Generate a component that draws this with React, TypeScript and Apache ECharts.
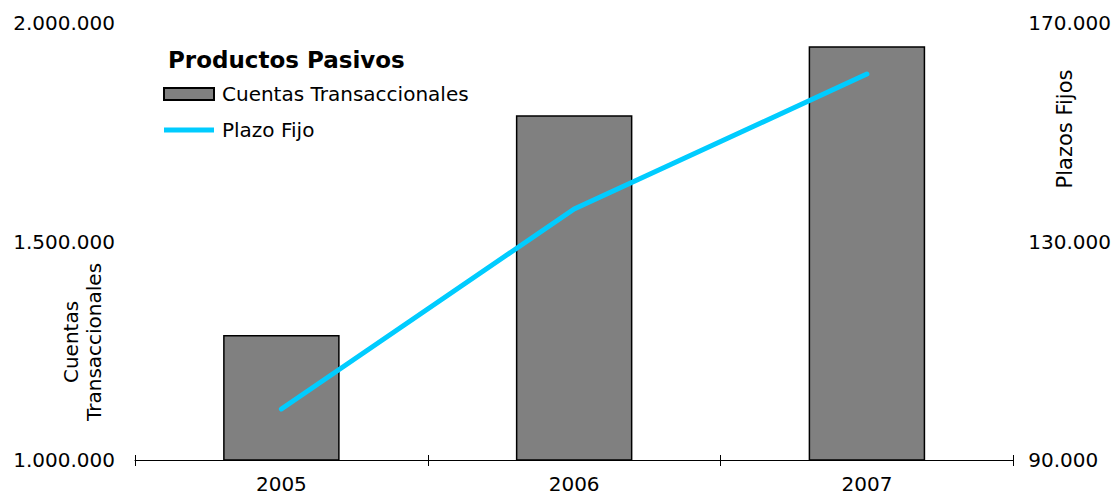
import React, { useEffect, useRef } from "react";
import * as echarts from "echarts";

const years = ["2005", "2006", "2007"];
const cuentasTransaccionales = [1286000, 1789000, 1947000];
const plazoFijo = [99340, 135950, 160660];
const leftTicks = { min: 1000000, max: 2000000, interval: 500000 };
const rightTicks = { min: 90000, max: 170000, interval: 40000 };

const FONT = "DejaVu Sans";

function fmt(v: number): string {
  return Math.round(v)
    .toString()
    .replace(/\B(?=(\d{3})+(?!\d))/g, ".");
}

export default function App() {
  const ref = useRef<HTMLDivElement>(null);
  useEffect(() => {
    if (!ref.current) return;
    const chart = echarts.init(ref.current, null, { renderer: "svg" });
    chart.setOption({
      animation: false,
      backgroundColor: "#ffffff",
      textStyle: { fontFamily: FONT },
      grid: { left: 135, right: 99, top: 23, bottom: 37, containLabel: false },
      legend: {
        orient: "vertical",
        left: 158,
        top: 79,
        itemWidth: 50,
        itemHeight: 12,
        itemGap: 16,
        textStyle: { fontFamily: FONT, fontSize: 20, color: "#000", padding: [0, 0, 0, 3] },
        data: [
          { name: "Cuentas Transaccionales", icon: "rect" },
          { name: "Plazo Fijo", icon: "path://M0,0 L100,0 L100,10 L0,10 Z" },
        ],
      },
      graphic: [
        {
          type: "text",
          left: 168,
          top: 48,
          style: { text: "Productos Pasivos", font: `bold 23px '${FONT}'`, fill: "#000" },
        },
        {
          type: "text",
          x: 82,
          y: 342,
          rotation: Math.PI / 2,
          style: {
            text: "Cuentas\nTransaccionales",
            font: `20px '${FONT}'`,
            fill: "#000",
            align: "center",
            verticalAlign: "middle",
            lineHeight: 23,
          },
        },
        {
          type: "text",
          x: 1065,
          y: 129,
          rotation: Math.PI / 2,
          style: {
            text: "Plazos Fijos",
            font: `21px '${FONT}'`,
            fill: "#000",
            align: "center",
            verticalAlign: "middle",
          },
        },
      ],
      xAxis: [
        {
          type: "category",
          data: years,
          axisLine: { show: true, lineStyle: { color: "#000", width: 1 } },
          axisTick: { show: true, inside: false, length: 6, lineStyle: { color: "#000" } },
          axisLabel: { color: "#000", fontFamily: FONT, fontSize: 20, margin: 14, lineHeight: 20 },
          splitLine: { show: false },
        },
        {
          type: "category",
          data: years,
          position: "bottom",
          axisLine: { show: false },
          axisTick: { show: true, inside: true, length: 5, lineStyle: { color: "#000" } },
          axisLabel: { show: false },
          splitLine: { show: false },
        },
      ],
      yAxis: [
        {
          type: "value",
          min: leftTicks.min,
          max: leftTicks.max,
          interval: leftTicks.interval,
          axisLine: { show: false },
          axisTick: { show: false },
          splitLine: { show: false },
          axisLabel: {
            color: "#000",
            fontFamily: FONT,
            fontSize: 20,
            margin: 20,
            formatter: (v: number) => fmt(v),
          },
        },
        {
          type: "value",
          min: rightTicks.min,
          max: rightTicks.max,
          interval: rightTicks.interval,
          position: "right",
          axisLine: { show: false },
          axisTick: { show: false },
          splitLine: { show: false },
          axisLabel: {
            color: "#000",
            fontFamily: FONT,
            fontSize: 20,
            margin: 15,
            formatter: (v: number) => fmt(v),
          },
        },
      ],
      series: [
        {
          name: "Cuentas Transaccionales",
          type: "bar",
          xAxisIndex: 0,
          yAxisIndex: 0,
          data: cuentasTransaccionales,
          barWidth: "39.8%",
          itemStyle: { color: "#808080", borderColor: "#000", borderWidth: 1.5 },
        },
        {
          name: "Plazo Fijo",
          type: "line",
          xAxisIndex: 0,
          yAxisIndex: 1,
          data: plazoFijo,
          symbol: "none",
          lineStyle: { color: "#00CCFF", width: 5, cap: "round" },
          itemStyle: { color: "#00CCFF" },
        },
      ],
    });
    return () => chart.dispose();
  }, []);
  return (
    <div
      ref={ref}
      style={{ position: "fixed", left: 0, top: 0, width: 1114, height: 497 }}
    />
  );
}
